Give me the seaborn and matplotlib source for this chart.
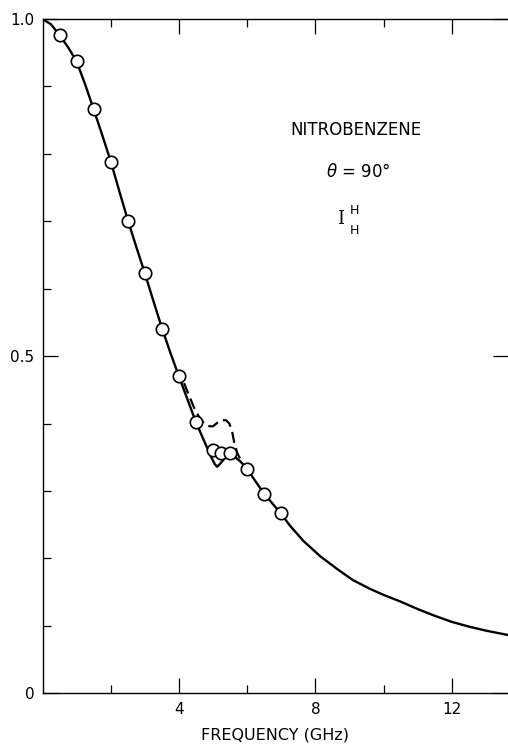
import matplotlib
matplotlib.use("Agg")
import matplotlib.pyplot as plt
import seaborn as sns
import pandas as pd
from matplotlib.ticker import FixedLocator, FixedFormatter

# courbe continue
freq_courbe = [0, 0.25, 0.5, 0.75, 1.0, 1.25, 1.5, 1.75, 2.0, 2.25, 2.5, 2.75, 3.0, 3.25, 3.5,
               3.75, 4.0, 4.25, 4.5, 4.75, 4.95, 5.05, 5.12, 5.2, 5.35, 5.5, 5.65, 5.8, 6.0,
               6.25, 6.5, 6.75, 7.0, 7.25, 7.65, 8.15, 8.65, 9.1, 9.6, 10.0, 10.5, 11.0, 11.5,
               12.0, 12.5, 13.0, 13.7]
int_courbe = [1.0, 0.992, 0.976, 0.958, 0.937, 0.903, 0.866, 0.828, 0.789, 0.745, 0.702, 0.662,
              0.623, 0.582, 0.542, 0.505, 0.470, 0.436, 0.402, 0.373, 0.350, 0.340, 0.336, 0.340,
              0.349, 0.352, 0.350, 0.344, 0.333, 0.314, 0.296, 0.281, 0.266, 0.249, 0.226, 0.203,
              0.184, 0.168, 0.155, 0.146, 0.136, 0.125, 0.115, 0.106, 0.099, 0.093, 0.086]

# courbe en tirets
freq_tirets = [4.15, 4.3, 4.45, 4.6, 4.75, 4.9, 5.0, 5.12, 5.25, 5.38, 5.48, 5.56, 5.63, 5.72, 5.85]
int_tirets = [0.460, 0.441, 0.423, 0.409, 0.400, 0.396, 0.396, 0.401, 0.405, 0.405, 0.400,
              0.388, 0.370, 0.355, 0.343]

# points experimentaux
freq_points = [0.5, 1.0, 1.5, 2.0, 2.5, 3.0, 3.5, 4.0, 4.5, 5.0, 5.22, 5.5, 6.0, 6.5, 7.0]
int_points = [0.976, 0.938, 0.866, 0.788, 0.700, 0.623, 0.541, 0.470, 0.402, 0.361, 0.357,
              0.357, 0.333, 0.296, 0.267]

courbe = pd.DataFrame({"f": freq_courbe, "I": int_courbe})
tirets = pd.DataFrame({"f": freq_tirets, "I": int_tirets})
points = pd.DataFrame({"f": freq_points, "I": int_points})

sns.set_style("ticks")
plt.rcParams["font.family"] = ["DejaVu Sans"]
plt.rcParams["text.color"] = "black"
plt.rcParams["axes.labelcolor"] = "black"

fig = plt.figure(figsize=(5.08, 7.44), dpi=100)
ax = fig.add_axes([0.0837, 0.0681, 0.9163, 0.9064])

sns.lineplot(data=courbe, x="f", y="I", ax=ax, color="black", lw=1.7, sort=False)
sns.lineplot(data=tirets, x="f", y="I", ax=ax, color="black", lw=1.6, sort=False,
             linestyle=(0, (5, 2.5)))
sns.scatterplot(data=points, x="f", y="I", ax=ax, s=80, facecolor="white",
                edgecolor="black", linewidth=1.2, zorder=5)

ax.set_xlim(0, 13.65)
ax.set_ylim(0, 1.0)

ax.xaxis.set_major_locator(FixedLocator([4, 8, 12]))
ax.xaxis.set_minor_locator(FixedLocator([2, 6, 10]))
ax.yaxis.set_major_locator(FixedLocator([0, 0.5, 1.0]))
ax.yaxis.set_major_formatter(FixedFormatter(["0", "0.5", "1.0"]))
ax.yaxis.set_minor_locator(FixedLocator([0.1, 0.2, 0.3, 0.4, 0.6, 0.7, 0.8, 0.9]))

ax.tick_params(which="both", direction="in", top=True, right=True, width=0.9,
               labelsize=11, colors="black", labelcolor="black")
ax.tick_params(which="major", length=11)
ax.tick_params(which="minor", length=6)
ax.tick_params(axis="y", which="minor", right=False)
ax.tick_params(axis="x", pad=6)
ax.tick_params(axis="y", pad=6)

for s in ["left", "bottom", "top"]:
    ax.spines[s].set_linewidth(1.0)
    ax.spines[s].set_color("black")
ax.spines["right"].set_visible(False)

ax.set_xlabel("FREQUENCY (GHz)", fontsize=11.5, labelpad=8, color="black")
ax.set_ylabel("")

# annotations
ax.text(9.2, 0.835, "NITROBENZENE", fontsize=12, ha="center", va="center")
ax.text(9.25, 0.773, r"$\theta$ = 90°", fontsize=12, ha="center", va="center")
ax.text(8.73, 0.704, "I", fontsize=13, ha="center", va="center", family="DejaVu Serif")
ax.text(9.15, 0.716, "H", fontsize=9, ha="center", va="center")
ax.text(9.15, 0.686, "H", fontsize=9, ha="center", va="center")

fig.savefig("out.png", dpi=100)
